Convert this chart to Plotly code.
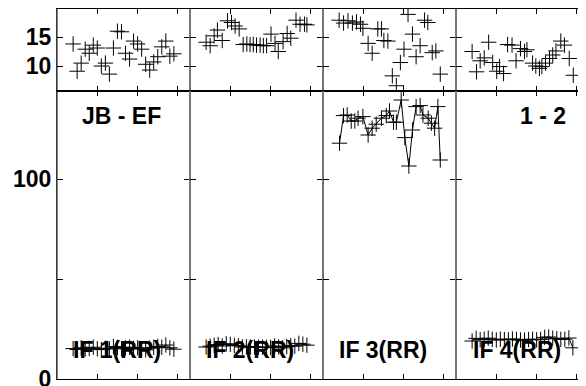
import plotly.graph_objects as go

# ---------------- data ----------------
days = list(range(4, 30))          # 26 days

top1 = [13.8, 9.1, 10.5, 12.9, 12.2, 13.6, 13.1, 10.0, 10.5, 8.6, 13.1, 16.0, 15.9,
        12.2, 11.2, 14.3, 13.8, 12.9, 10.3, 9.3, 10.7, 11.6, 13.3, 14.3, 11.7, 12.1]
top2_x = [4.0, 5.0, 6.0, 6.8, 8.0, 9.3, 10.3, 11.2, 12.2, 13.2, 14.1, 14.9, 15.7, 16.5,
          17.4, 18.2, 19.0, 20.1, 21.1, 21.9, 23.1, 24.1, 25.0, 26.3, 27.3, 28.4, 29.0]
top2 = [14.1, 13.5, 15.2, 16.2, 14.4, 17.8, 17.5, 16.9, 16.4, 13.7, 13.8, 13.7, 13.7, 13.6,
        13.6, 13.5, 13.5, 15.5, 13.9, 12.5, 14.2, 15.6, 14.8, 17.9, 17.2, 17.2, 17.1]
top3_x = [4.0, 5.1, 6.2, 7.3, 8.3, 9.3, 9.9, 11.2, 12.2, 13.6, 14.5, 15.1, 16.1, 17.2,
          18.2, 19.2, 20.1, 21.1, 22.2, 23.1, 24.1, 25.2, 26.0, 27.1, 28.0, 29.1]
top3 = [17.9, 17.4, 17.8, 17.4, 17.6, 17.2, 16.5, 13.9, 12.2, 16.4, 16.4, 14.4, 14.3, 8.3,
        6.6, 10.6, 12.9, 18.9, 15.5, 11.6, 13.5, 17.9, 17.5, 12.3, 12.6, 8.6]
top4_x = [4.0, 5.1, 6.0, 7.0, 8.1, 9.1, 10.1, 10.8, 11.8, 12.8, 13.9, 14.9, 16.0, 17.0,
          17.6, 19.0, 19.8, 20.7, 21.3, 22.2, 23.2, 24.0, 24.8, 26.0, 26.9, 28.1, 29.1]
top4 = [12.5, 9.0, 10.9, 11.4, 14.1, 10.6, 9.1, 9.9, 8.7, 13.7, 13.6, 10.9, 13.0, 12.5,
        12.8, 10.5, 10.0, 9.6, 9.9, 10.5, 11.3, 11.9, 12.6, 14.3, 13.6, 11.3, 8.4]

bot1 = [15.2, 14.8, 15.6, 15.0, 15.3, 15.9, 15.1, 14.7, 15.4, 15.0, 16.2, 15.8, 15.1,
        15.5, 15.9, 15.3, 15.6, 15.0, 14.6, 15.4, 15.8, 16.3, 15.9, 17.0, 15.6, 14.9]
bot2 = [16.0, 16.4, 16.9, 17.2, 16.5, 17.6, 17.3, 16.8, 16.6, 16.0, 16.1, 16.0, 16.0,
        15.9, 15.9, 15.8, 15.8, 16.5, 16.0, 15.6, 16.2, 16.7, 16.4, 17.8, 17.4, 16.9]
bot3_x = [4.1, 5.1, 6.0, 7.0, 7.9, 8.7, 9.9, 11.2, 12.2, 13.2, 14.5, 15.7, 16.5, 17.5,
          18.2, 19.4, 20.3, 21.3, 22.2, 23.1, 24.1, 24.8, 26.1, 26.9, 27.7, 28.5, 29.1]
bot3 = [117.9, 131.7, 132.0, 129.0, 129.0, 130.4, 131.2, 122.0, 125.4, 127.4, 130.4, 131.7,
        134.0, 128.4, 128.4, 139.5, 120.7, 106.5, 124.5, 136.2, 136.7, 132.0, 130.4, 127.9,
        125.4, 136.2, 109.5]
bot4 = [19.0, 20.3, 19.6, 19.9, 20.4, 19.8, 19.5, 19.9, 19.7, 19.6, 20.0, 19.8, 19.5,
        19.4, 19.7, 19.9, 19.6, 19.8, 20.8, 21.0, 20.4, 20.1, 19.8, 19.9, 20.5, 15.6]

col_labels = ["IF 1(RR)", "IF 2(RR)", "IF 3(RR)", "IF 4(RR)"]
top_ticks = [10, 15]
bot_ticks = [0, 50, 100]
bot_ticktext = ["0", "", "100"]
x_ticks = [10, 20, 30]

# ---------------- layout geometry ----------------
# the page body has an 8px margin, so the figure starts at (8, 8) in the window
OFF = 8
W, H = 586 - OFF, 386 - OFF
ML, MT, MB = 57 - OFF, 9 - OFF, 7
PW = W - ML            # plot width in px (529)
PH = H - MT - MB       # plot height in px (370)
panel_px = 133
ytop_split = (379 - 91) / PH

fig = go.Figure()
FONT = "Liberation Sans, Arial, sans-serif"
mk = dict(symbol="cross-thin", size=11, line=dict(width=1, color="black"), color="black")

top_series = [(days, top1), (top2_x, top2), (top3_x, top3), (top4_x, top4)]
bot_series = [(days, bot1), (days, bot2), (bot3_x, bot3), (days, bot4)]

for i in range(4):
    n_top = i + 1
    n_bot = i + 5
    tx = "x" if n_top == 1 else f"x{n_top}"
    ty = "y" if n_top == 1 else f"y{n_top}"
    bx, by = f"x{n_bot}", f"y{n_bot}"
    fig.add_trace(go.Scatter(x=top_series[i][0], y=top_series[i][1], mode="markers",
                             marker=mk, xaxis=tx, yaxis=ty, showlegend=False))
    fig.add_trace(go.Scatter(x=bot_series[i][0], y=bot_series[i][1], mode="lines+markers",
                             marker=mk, line=dict(color="black", width=1),
                             xaxis=bx, yaxis=by, showlegend=False))

layout = dict(width=W, height=H, margin=dict(l=ML, r=0, t=MT, b=MB),
              paper_bgcolor="white", plot_bgcolor="white",
              font=dict(family=FONT, size=23, color="black", weight="bold"))

for i in range(4):
    x0 = i * panel_px / PW
    x1 = min((i + 1) * panel_px / PW, 1.0)
    width_px = (x1 - x0) * PW
    xr = [0, 33 * width_px / panel_px]
    for row in (0, 1):
        n = i + 1 + 4 * row
        xname = "xaxis" if n == 1 else f"xaxis{n}"
        yname = "yaxis" if n == 1 else f"yaxis{n}"
        xa = "x" if n == 1 else f"x{n}"
        ya = "y" if n == 1 else f"y{n}"
        layout[xname] = dict(domain=[x0, x1], range=xr, anchor=ya, tickvals=x_ticks,
                             ticks="inside", ticklen=5, tickcolor="black",
                             showticklabels=False, showgrid=False, zeroline=False,
                             showline=True, linecolor="black", linewidth=1, mirror="allticks",
                             automargin=False)
        ydom = [ytop_split, 1.0] if row == 0 else [0.0, ytop_split]
        yr = [5.69, 19.83] if row == 0 else [0, 144]
        ycfg = dict(domain=ydom, range=yr, anchor=xa, ticks="inside", ticklen=6,
                    tickcolor="black", showgrid=False, zeroline=False,
                    showline=True, linecolor="#777", linewidth=1, mirror="allticks",
                    showticklabels=(i == 0), automargin=False, ticklabeloverflow="allow",
                    tickfont=dict(family=FONT, size=23, color="black", weight="bold"))
        if row == 0:
            ycfg["tickvals"] = top_ticks
        else:
            ycfg["tickvals"] = bot_ticks
            ycfg["ticktext"] = bot_ticktext
        layout[yname] = ycfg

fig.update_layout(**layout)

# left border in black
fig.add_shape(type="line", xref="paper", yref="paper", x0=0, x1=0, y0=0, y1=1,
              line=dict(color="black", width=1))

ann_font = dict(family=FONT, size=23, color="black", weight="bold")
fig.add_annotation(text="JB - EF", xref="paper", yref="paper", x=64 / PW, y=263 / PH,
                   showarrow=False, xanchor="center", yanchor="middle", font=ann_font)
fig.add_annotation(text="1 - 2", xref="paper", yref="paper", x=486 / PW, y=263 / PH,
                   showarrow=False, xanchor="center", yanchor="middle", font=ann_font)
centers = [117, 250, 383, 517]
for c, lab in zip(centers, col_labels):
    fig.add_annotation(text=lab, xref="paper", yref="paper", x=(c - 57) / PW, y=29 / PH,
                       showarrow=False, xanchor="center", yanchor="middle", font=ann_font)

fig.write_html("out.html")
